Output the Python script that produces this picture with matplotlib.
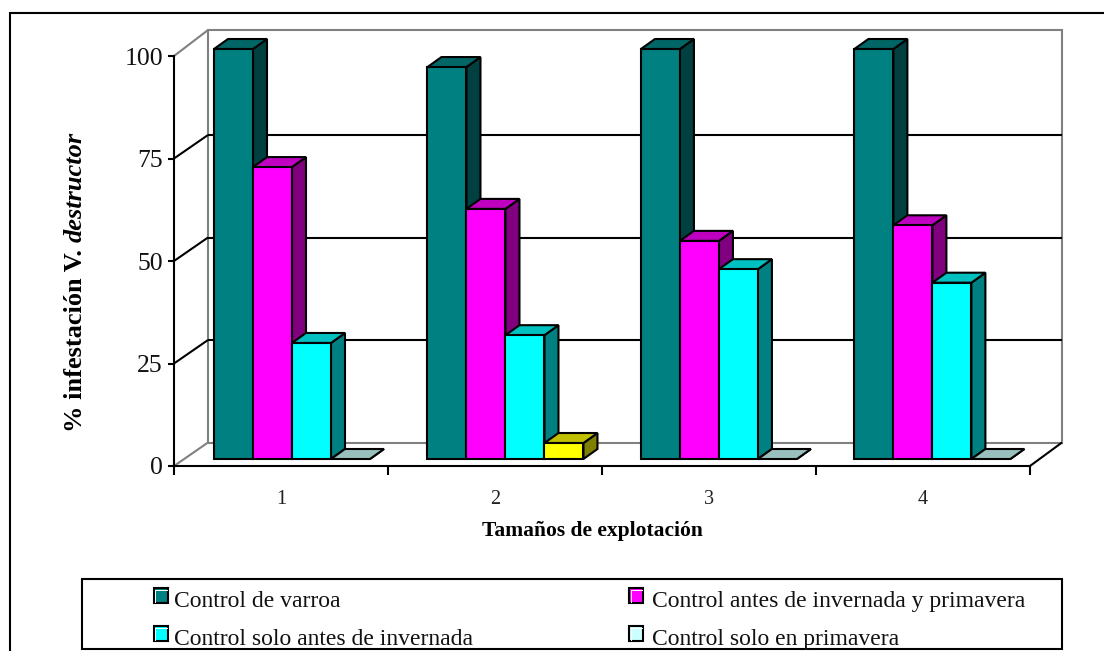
import matplotlib
matplotlib.use("Agg")
import matplotlib.pyplot as plt
from matplotlib.lines import Line2D
from matplotlib.patches import Polygon, Rectangle
from matplotlib.transforms import Affine2D

# Chart data
categories = ["1", "2", "3", "4"]
series_names = [
    "Control de varroa",
    "Control antes de invernada y primavera",
    "Control solo antes de invernada",
    "Control solo en primavera",
]
control_varroa = [100, 95.6, 100, 100]
antes_y_primavera = [71.2, 61, 53.2, 57]
solo_antes = [28.3, 30.2, 46.3, 43]
solo_primavera = [0, 3.9, 0, 0]
y_ticks = [0, 25, 50, 75, 100]

series_values = [control_varroa, antes_y_primavera, solo_antes, solo_primavera]
front_colors = ["#008080", "#FF00FF", "#00FFFF", "#FFFF00"]
top_colors = ["#006666", "#C000C0", "#00C0C0", "#C0C000"]
side_colors = ["#004040", "#800080", "#008080", "#808000"]
legend_colors = ["#008080", "#FF00FF", "#00FFFF", "#CCFFFF"]
empty_top_color = "#99C0BD"

W, H = 1104, 651
LW = 1.5
GRAY = "#808080"
SERIF = "Liberation Serif"

fig = plt.figure(figsize=(W / 100, H / 100), dpi=100, facecolor="white")

# Plot box: pixels 174..1030 across and 466..56 down give the value scale
ax = fig.add_axes([174 / W, 1 - 466 / H, (1030 - 174) / W, (466 - 56) / H])
ax.set_xlim(0, 4)
ax.set_ylim(0, 100)
ax.patch.set_visible(False)

ux = 4 / (1030 - 174)    # data units per pixel, horizontal
uy = 100 / (466 - 56)    # data units per pixel, vertical

# Perspective shifts, expressed in pixels
WALL_DX_LEFT, WALL_DX_RIGHT, WALL_DY = 34, 32, 23.5
WALL_TOP_EXTRA = 0.6
BAR_DX, BAR_DY = 14, 10
FLOOR_X, FLOOR_Y = 40, 7
BAR_W = 39
GROUP_STEP = 0.9975


def seg(xs, ys, color, zorder=1):
    ax.add_line(Line2D(xs, ys, color=color, lw=LW, zorder=zorder, clip_on=False,
                       solid_capstyle="butt", solid_joinstyle="miter"))


# Back wall and floor outline
x0 = WALL_DX_LEFT * ux
xr = 4 + WALL_DX_RIGHT * ux
y0 = WALL_DY * uy
yt = 100 + WALL_TOP_EXTRA + y0
seg([x0, x0, xr, xr, x0], [y0, yt, yt, y0, y0], GRAY)
seg([0, x0], [0, y0], GRAY)
seg([0, x0], [100, yt], GRAY)
seg([4, xr], [0, y0], "black", 2)

# Gridlines run along the side wall and across the back wall
for v in y_ticks[1:-1]:
    wy = v + y0
    seg([0, x0], [v, wy], "black", 2)
    seg([x0, xr], [wy, wy], "black", 2)

# Bars: side and top faces first, then the front
for g in range(len(categories)):
    left = g * GROUP_STEP + FLOOR_X * ux
    for s, vals in enumerate(series_values):
        v = vals[g]
        a = left + s * BAR_W * ux
        b = a + BAR_W * ux
        base = FLOOR_Y * uy
        top = base + v
        dx, dy = BAR_DX * ux, BAR_DY * uy
        kw = dict(edgecolor="black", lw=LW, clip_on=False, zorder=3, joinstyle="miter")
        ax.add_patch(Polygon([(b, base), (b + dx, base + dy), (b + dx, top + dy), (b, top)],
                             facecolor=side_colors[s], **kw))
        top_fill = top_colors[s] if v > 0 else empty_top_color
        ax.add_patch(Polygon([(a, top), (a + dx, top + dy), (b + dx, top + dy), (b, top)],
                             facecolor=top_fill, **kw))
        if v > 0:
            ax.add_patch(Rectangle((a, base), b - a, v, facecolor=front_colors[s], **kw))

# Axes, ticks and tick labels
for name in ("top", "right"):
    ax.spines[name].set_visible(False)
for name in ("left", "bottom"):
    ax.spines[name].set_linewidth(LW)
    ax.spines[name].set_zorder(2)

ax.set_yticks(y_ticks)
ax.set_yticklabels([str(t) for t in y_ticks], fontfamily=SERIF, fontsize=18.5, color="#111111")
ax.tick_params(axis="y", length=4.5, width=LW, pad=3.5)
ax.set_xticks(range(5))
ax.set_xticklabels([])
ax.tick_params(axis="x", which="major", length=6.5, width=LW)
ax.set_xticks([i + 0.5 for i in range(4)], minor=True)
ax.set_xticklabels(categories, minor=True, fontfamily=SERIF, fontsize=14.5, color="#222222")
ax.tick_params(axis="x", which="minor", length=0, pad=17)

# Everything outside the plot box is placed in page pixels
page = Affine2D().scale(1 / W, -1 / H).translate(0, 1) + fig.transFigure

fig.add_artist(Line2D([10, 10, W], [H, 13, 13], transform=page, color="black", lw=LW,
                      solid_joinstyle="miter"))

fig.text(592.5, 531, "Tamaños de explotación", transform=page, ha="center", va="center",
         fontfamily=SERIF, fontweight="bold", fontsize=15.5)

# Rotated axis title, with the species name in italics
part_a = fig.text(75, 432, "% infestación V. ", transform=page, rotation=90, ha="center",
                  va="bottom", fontfamily=SERIF, fontweight="bold", fontsize=19)
fig.canvas.draw()
ext = part_a.get_window_extent()
fig.text(75, H - ext.y1, "destructor", transform=page, rotation=90, ha="center", va="bottom",
         fontfamily=SERIF, fontweight="bold", fontstyle="italic", fontsize=19)

# Legend box
fig.add_artist(Rectangle((82, 579), 980, 70, transform=page, facecolor="white",
                         edgecolor="black", lw=LW, joinstyle="miter"))
legend_slots = [(153.5, 588, 174, 601.5), (629, 588, 652, 601.5),
                (153.5, 626, 174, 639.5), (629, 626, 652, 639.5)]
for name, color, (sx, sy, tx, ty) in zip(series_names, legend_colors, legend_slots):
    fig.add_artist(Rectangle((sx, sy), 14, 14.5, transform=page, facecolor=color,
                             edgecolor="black", lw=LW, joinstyle="miter"))
    # Thin highlight just inside the swatch's top and left edges
    fig.add_artist(Line2D([sx + 1.5, sx + 1.5, sx + 13], [sy + 13.5, sy + 1.5, sy + 1.5],
                          transform=page, color="white", lw=0.7))
    fig.text(tx, ty, name, transform=page, ha="left", va="center", fontfamily=SERIF,
             fontsize=17, color="#111111")

fig.savefig("out.png", dpi=100, facecolor="white")
